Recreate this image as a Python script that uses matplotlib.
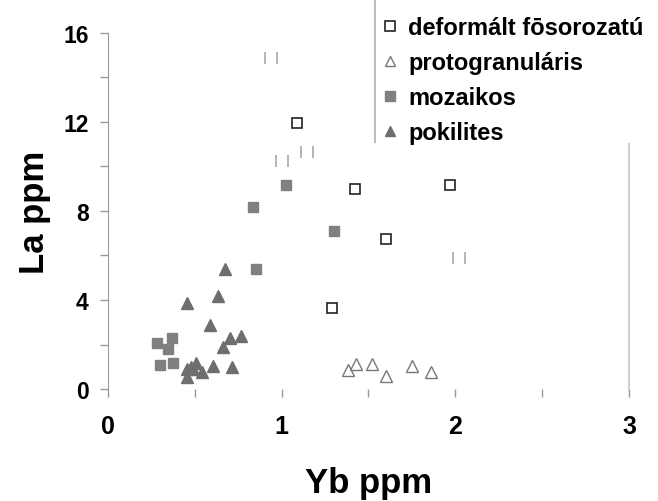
import matplotlib
matplotlib.use("Agg")
import matplotlib.pyplot as plt
from matplotlib.path import Path
from matplotlib.lines import Line2D

plt.rcParams['font.family'] = ['Liberation Sans', 'DejaVu Sans']
plt.rcParams['font.weight'] = 'bold'

# --- data ---
deform_x = [1.09, 1.42, 1.97, 1.60, 1.29]
deform_y = [11.96, 8.99, 9.17, 6.74, 3.64]
deform_faint_x = [0.94, 1.00, 1.146, 2.02]
deform_faint_y = [14.88, 10.25, 10.65, 5.89]

proto_x = [1.38, 1.43, 1.52, 1.60, 1.75, 1.86]
proto_y = [0.85, 1.12, 1.12, 0.60, 1.03, 0.77]

mozaik_x = [1.026, 0.837, 1.30, 0.854, 0.281, 0.367, 0.344, 0.298, 0.374]
mozaik_y = [9.17, 8.18, 7.10, 5.39, 2.07, 2.29, 1.80, 1.08, 1.17]

pokil_x = [0.676, 0.636, 0.453, 0.585, 0.705, 0.768, 0.665, 0.453, 0.504,
           0.487, 0.539, 0.602, 0.716, 0.453, 0.48]
pokil_y = [5.39, 4.18, 3.86, 2.88, 2.29, 2.38, 1.89, 0.90, 1.17,
           0.90, 0.76, 1.03, 0.99, 0.54, 0.99]

labels = ["deformált fōsorozatú", "protogranuláris", "mozaikos", "pokilites"]
x_ticks = [0, 0.5, 1, 1.5, 2, 2.5, 3]
y_ticks = [0, 2, 4, 6, 8, 10, 12, 14, 16]

fig = plt.figure(figsize=(6.58, 5.02), dpi=100)
ax = fig.add_axes([0.1641, 0.2231, 0.7918, 0.7092])

bars = Path([(-0.5, -0.5), (-0.5, 0.5), (0.5, -0.5), (0.5, 0.5)],
            [Path.MOVETO, Path.LINETO, Path.MOVETO, Path.LINETO])

ax.plot(deform_faint_x, deform_faint_y, linestyle='none', marker=bars,
        markersize=8, markeredgecolor='#b0b0b0', markeredgewidth=1.3)
ax.plot(deform_x, deform_y, linestyle='none', marker='s', markersize=7.5,
        markerfacecolor='white', markeredgecolor='#222222', markeredgewidth=1.2)
ax.plot(proto_x, proto_y, linestyle='none', marker='^', markersize=8,
        markerfacecolor='white', markeredgecolor='#777777', markeredgewidth=1.0)
ax.plot(mozaik_x, mozaik_y, linestyle='none', marker='s', markersize=7.5,
        markerfacecolor='#808080', markeredgecolor='#808080')
ax.plot(pokil_x, pokil_y, linestyle='none', marker='^', markersize=8.5,
        markerfacecolor='#6e6e6e', markeredgecolor='#6e6e6e')

ax.set_xlim(0, 3)
ax.set_ylim(0, 16)
ax.set_xticks(x_ticks)
ax.set_xticklabels([str(int(t)) if t == int(t) else '' for t in x_ticks])
ax.set_yticks(y_ticks)
ax.set_yticklabels([str(t) if t % 4 == 0 else '' for t in y_ticks])

for s in ['top', 'bottom']:
    ax.spines[s].set_visible(False)
ax.spines['left'].set_color('#9a9a9a')
ax.spines['right'].set_color('#cfcfcf')
ax.spines['right'].set_linewidth(1.5)
ax.spines['right'].set_bounds(0, 11.0)

ax.tick_params(axis='y', direction='out', length=6, width=1, color='#9a9a9a',
               labelsize=16.5, pad=8)
ax.tick_params(axis='x', direction='out', length=6, width=1, color='#9a9a9a',
               labelsize=18, pad=12)

ax.set_xlabel("Yb ppm", fontsize=25, fontweight='bold', labelpad=20)
ax.set_ylabel("La ppm", fontsize=25, fontweight='bold', labelpad=9)

handles = [
    Line2D([], [], linestyle='none', marker='s', markersize=7,
           markerfacecolor='white', markeredgecolor='#222222', markeredgewidth=1.2),
    Line2D([], [], linestyle='none', marker='^', markersize=7,
           markerfacecolor='white', markeredgecolor='#777777', markeredgewidth=1.0),
    Line2D([], [], linestyle='none', marker='s', markersize=6.5,
           markerfacecolor='#808080', markeredgecolor='#808080'),
    Line2D([], [], linestyle='none', marker='^', markersize=7,
           markerfacecolor='#6e6e6e', markeredgecolor='#6e6e6e'),
]
leg = fig.legend(handles, labels, loc='upper left',
                 bbox_to_anchor=(373 / 658, 1 - 8 / 502),
                 frameon=False, fontsize=17, handlelength=0.6,
                 handletextpad=0.5, labelspacing=0.5, borderaxespad=0)
for t in leg.get_texts():
    t.set_fontweight('bold')

fig.add_artist(Line2D([375 / 658, 375 / 658], [1.0, 1 - 143 / 502],
                      transform=fig.transFigure, color='#bdbdbd', linewidth=1.5))

fig.savefig("out.png", dpi=100)
